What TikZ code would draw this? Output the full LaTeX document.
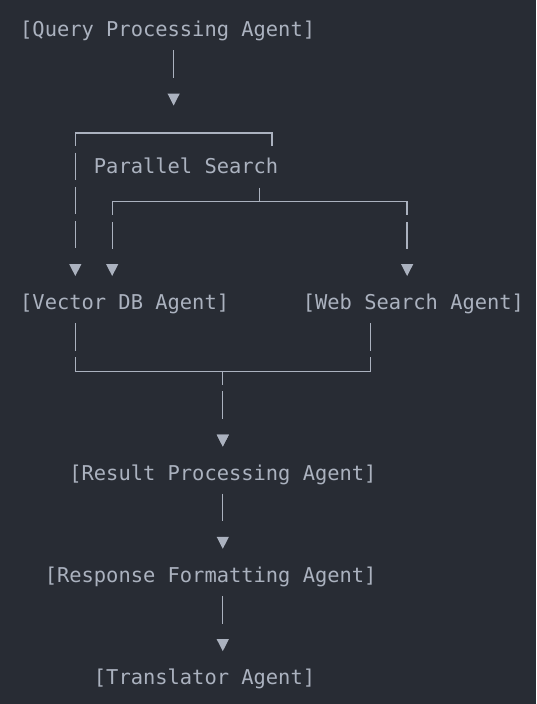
\documentclass[tikz,border=0pt]{standalone}
\usepackage{fontspec}
\newfontfamily\monofam{DejaVu Sans Mono}
\usetikzlibrary{arrows.meta}
\definecolor{bgc}{HTML}{282C34}
\definecolor{fgc}{HTML}{ABB2BF}
% grid: column centre, column left edge, row centre (in px = pt)
\newcommand{\gx}[1]{(26.15+12.29*(#1))}
\newcommand{\lx}[1]{(20.0+12.29*(#1))}
\newcommand{\gy}[1]{(30.8+34.1*(#1))}
\begin{document}
\begin{tikzpicture}[x=1pt,y=-1pt,
  lbl/.style={anchor=base west, inner sep=0pt, text=fgc,
    font=\monofam\fontsize{20.41}{24}\selectfont},
  link/.style={draw=fgc, line width=1.3pt, line join=miter,
    -{Triangle[length=12pt,width=12.3pt,line width=0pt]}},
  barsone/.style={dash pattern=on 27.5pt off 300pt, dash phase=314pt},
  barsleft/.style={dash pattern=on 222.64pt off 6.6pt on 27.5pt off 6.6pt on 27.5pt off 6.6pt on 27.5pt off 300pt, dash phase=597.74pt},
  barsfork/.style={dash pattern=on 174.98pt off 6.6pt on 27.5pt off 300pt, dash phase=494.58pt},
  barsmerge/.style={dash pattern=on 27.5pt off 6.6pt on 174.98pt off 6.6pt on 27.5pt off 300pt, dash phase=529.68pt}
]
\useasboundingbox (0,0) rectangle (536,704);
\fill[bgc] (0,0) rectangle (536,704);

% text nodes
\node[lbl] (qpa) at ({\lx{0}},{\gy{0}+6.1}) {[Query Processing Agent]};
\node[lbl] (ps)  at ({\lx{6}},{\gy{4}+6.1}) {Parallel Search};
\node[lbl] (vdb) at ({\lx{0}},{\gy{8}+6.1}) {[Vector DB Agent]};
\node[lbl] (wsa) at ({\lx{23}},{\gy{8}+6.1}) {[Web Search Agent]};
\node[lbl] (rpa) at ({\lx{4}},{\gy{13}+6.1}) {[Result Processing Agent]};
\node[lbl] (rfa) at ({\lx{2}},{\gy{16}+6.1}) {[Response Formatting Agent]};
\node[lbl] (ta)  at ({\lx{6}},{\gy{19}+6.1}) {[Translator Agent]};

% arrow apexes
\coordinate (a1) at ({\gx{12}},{\gy{2}+6.5});
\coordinate (a2) at ({\gx{4}},{\gy{7}+6.5});
\coordinate (a3) at ({\gx{7}},{\gy{7}+6.5});
\coordinate (a4) at ({\gx{31}},{\gy{7}+6.5});
\coordinate (a5) at ({\gx{16}},{\gy{12}+6.5});
\coordinate (a6) at ({\gx{16}},{\gy{15}+6.5});
\coordinate (a7) at ({\gx{16}},{\gy{18}+6.5});
% bends
\coordinate (b1) at ({\gx{20}},{\gy{3}});
\coordinate (b2) at ({\gx{4}},{\gy{3}});
\coordinate (b3) at ({\gx{19}},{\gy{5}});
\coordinate (b4) at ({\gx{7}},{\gy{5}});
\coordinate (b5) at ({\gx{31}},{\gy{5}});
\coordinate (b6) at ({\gx{4}},{\gy{10}});
\coordinate (b7) at ({\gx{28}},{\gy{10}});
\coordinate (b8) at ({\gx{16}},{\gy{10}});

% connectors
\draw[link, barsone] (qpa.base -| a1) -- (a1);
\draw[link, barsleft] (ps.base -| b1) -- (b1) -- (b2) -- (a2);
\draw[link, barsfork] (ps.base -| b3) -- (b3) -- (b4) -- (a3);
\draw[link, barsfork] (ps.base -| b3) -- (b3) -- (b5) -- (a4);
\draw[link, barsmerge] (vdb.base -| b6) -- (b6) -- (b8) -- (a5);
\draw[link, barsmerge] (wsa.base -| b7) -- (b7) -- (b8) -- (a5);
\draw[link, barsone] (rpa.base -| a6) -- (a6);
\draw[link, barsone] (rfa.base -| a7) -- (a7);
\end{tikzpicture}
\end{document}
